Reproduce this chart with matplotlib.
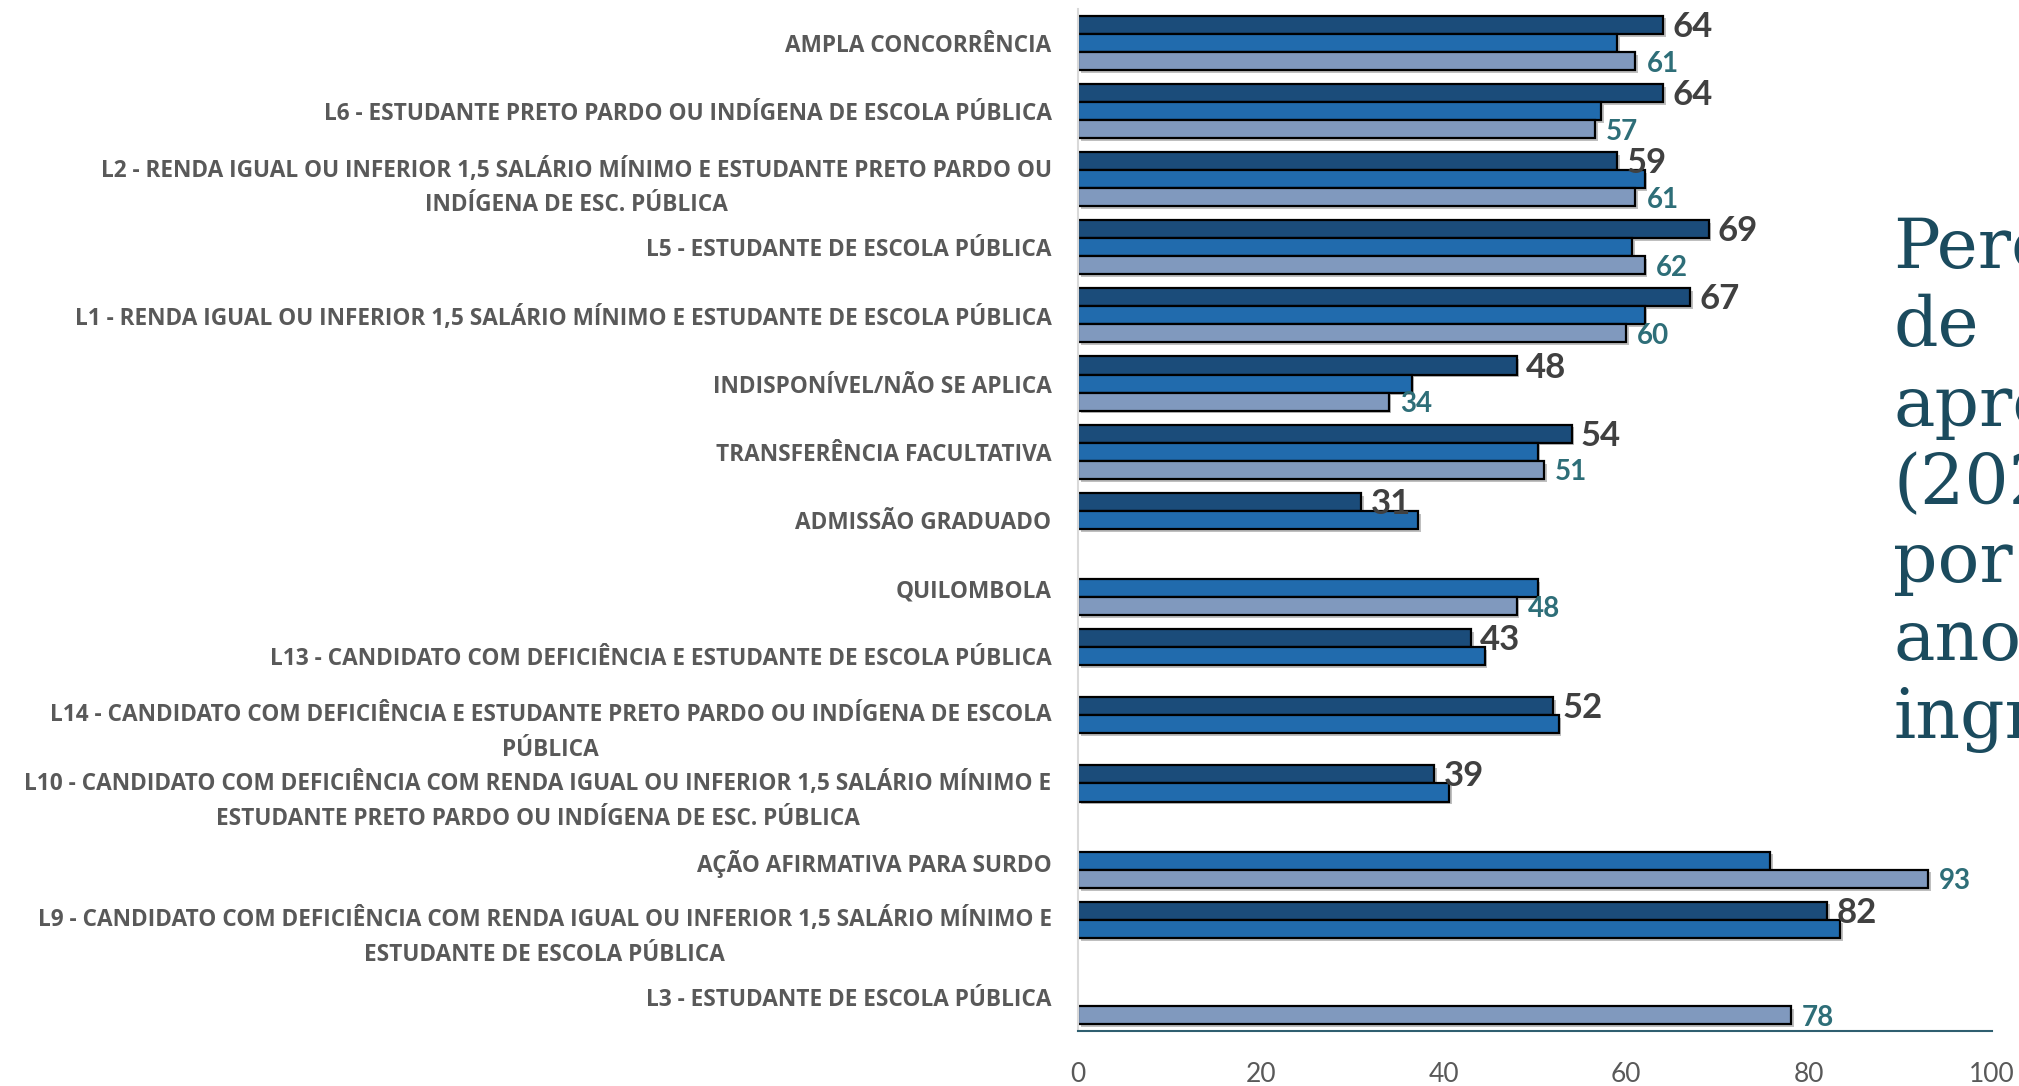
import numpy as np
import matplotlib.pyplot as plt
import matplotlib.patheffects as pe

nan = np.nan

categorias = [
    "AMPLA CONCORRÊNCIA",
    "L6 - ESTUDANTE PRETO PARDO OU INDÍGENA DE ESCOLA PÚBLICA",
    "L2 - RENDA IGUAL OU INFERIOR 1,5 SALÁRIO MÍNIMO E ESTUDANTE PRETO PARDO OU\nINDÍGENA DE ESC. PÚBLICA",
    "L5 - ESTUDANTE DE ESCOLA PÚBLICA",
    "L1 - RENDA IGUAL OU INFERIOR 1,5 SALÁRIO MÍNIMO E ESTUDANTE DE ESCOLA PÚBLICA",
    "INDISPONÍVEL/NÃO SE APLICA",
    "TRANSFERÊNCIA FACULTATIVA",
    "ADMISSÃO GRADUADO",
    "QUILOMBOLA",
    "L13 - CANDIDATO COM DEFICIÊNCIA E ESTUDANTE DE ESCOLA PÚBLICA",
    "L14 - CANDIDATO COM DEFICIÊNCIA E ESTUDANTE PRETO PARDO OU INDÍGENA DE ESCOLA\nPÚBLICA",
    "L10 - CANDIDATO COM DEFICIÊNCIA COM RENDA IGUAL OU INFERIOR 1,5 SALÁRIO MÍNIMO E\nESTUDANTE PRETO PARDO OU INDÍGENA DE ESC. PÚBLICA",
    "AÇÃO AFIRMATIVA PARA SURDO",
    "L9 - CANDIDATO COM DEFICIÊNCIA COM RENDA IGUAL OU INFERIOR 1,5 SALÁRIO MÍNIMO E\nESTUDANTE DE ESCOLA PÚBLICA",
    "L3 - ESTUDANTE DE ESCOLA PÚBLICA",
]

# three entry years, top bar to bottom bar in each group
serie_1 = [64, 64, 59, 69, 67, 48, 54, 31, nan, 43, 52, 39, nan, 82, nan]
serie_2 = [59, 57.2, 62, 60.6, 62, 36.5, 50.3, 37.2, 50.3, 44.5, 52.6, 40.6, 75.7, 83.4, nan]
serie_3 = [61, 56.6, 61, 62, 60, 34, 51, nan, 48, nan, nan, nan, 93, nan, 78]

xticks = [0, 20, 40, 60, 80, 100]
titulo = "Percentual\nde\naprovação\n(2022)\npor\nano\ningresso"

cores = ["#1B4C7A", "#216BAD", "#8099BE"]
altura = 0.265

fig = plt.figure(figsize=(20.19, 10.86), dpi=100)
ax = fig.add_axes([0.5339, 0.0506, 0.9866 - 0.5339, 0.992 - 0.0506])

y = np.arange(len(categorias))
sombra = [pe.SimplePatchShadow(offset=(2, -2), shadow_rgbFace="#000000", alpha=0.25), pe.Normal()]

for k, (serie, cor) in enumerate(zip([serie_1, serie_2, serie_3], cores)):
    off = (k - 1) * altura
    for i, v in enumerate(serie):
        if np.isnan(v):
            continue
        b = ax.barh(y[i] + off, v, height=altura, color=cor, edgecolor="black",
                    linewidth=1.6, zorder=2)
        b[0].set_path_effects(sombra)
        if k == 0:
            ax.text(v + 1.0, y[i] + off + 0.03, f"{v:.0f}", ha="left", va="center",
                    fontsize=25, fontweight="bold", color="#404040",
                    family="Lato", zorder=5)
        elif k == 2:
            ax.text(v + 1.2, y[i] + off + 0.04, f"{v:.0f}", ha="left", va="center",
                    fontsize=20, fontweight="bold", color="#2E6E78",
                    family="Lato", zorder=5)

ax.set_xlim(0, 100)
ax.set_ylim(len(categorias) - 0.5, -0.5)
ax.set_yticks(y)
ax.set_yticklabels(categorias, fontsize=16.3, fontweight="bold", color="#595959",
                   family="Open Sans", linespacing=1.6)
for lbl in ax.get_yticklabels():
    lbl.set_multialignment("center")
ax.set_xticks(xticks)
ax.set_xticklabels([str(t) for t in xticks], fontsize=19, color="#595959", family="Lato")
ax.tick_params(axis="y", length=0, pad=19)
ax.tick_params(axis="x", length=0, pad=22)

for s in ["top", "right"]:
    ax.spines[s].set_visible(False)
ax.spines["left"].set_color("#D9D9D9")
ax.spines["left"].set_linewidth(1.5)
ax.spines["bottom"].set_color("#2F5F70")
ax.spines["bottom"].set_linewidth(1.5)

fig.text(0.9376, 0.801, titulo, ha="left", va="top", fontsize=50,
         family="DejaVu Serif", color="#1B4B5E", linespacing=1.22)

fig.savefig("out.png", dpi=100)
